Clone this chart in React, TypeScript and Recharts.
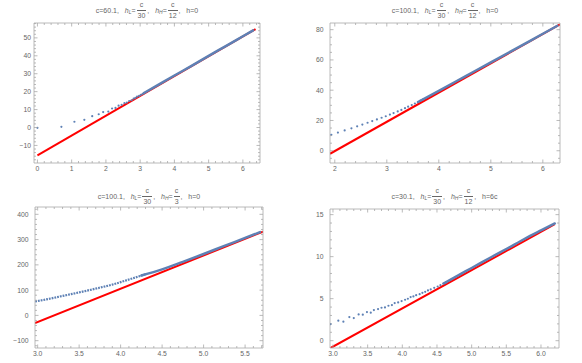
import React from 'react';
import { ComposedChart, Line, Scatter, XAxis, YAxis } from 'recharts';

const BLUE = '#5e81b5';
const RED = '#ff0000';
const FRAME = '#a8a8a8';
const TEXT = '#666666';
const FONT = '"Liberation Sans", Arial, sans-serif';

// ---- panel 1: c=60.1, hH=c/12, h=0 ----
const P1_DOT_X = [0, 0.7, 1.08, 1.37, 1.6, 1.79, 1.92, 2.07, 2.18, 2.28, 2.37, 2.46, 2.54, 2.61, 2.68, 2.75, 2.81, 2.86, 2.91, 2.97, 3.02, 3.07, 3.12];
const P1_DOT_Y = [-0.2, 0.4, 3.2, 4.3, 6.3, 7.4, 8.6, 8.9, 10.6, 10.9, 12.2, 12.6, 13.6, 13.9, 14.8, 15.2, 16.1, 16.5, 17.2, 17.6, 18.2, 18.7, 19.3];
const P1_BAND_X = [3.1, 3.5, 4.0, 4.5, 5.0, 5.5, 6.0, 6.3];
const P1_BAND_Y = [19.1, 23.5, 29.0, 34.4, 40.0, 45.4, 50.9, 54.2];
const P1_RED_X = [0, 6.37];
const P1_RED_Y = [-15.6, 54.9];
const P1_X_TICKS = [0, 1, 2, 3, 4, 5, 6];
const P1_X_LABELS = ['0', '1', '2', '3', '4', '5', '6'];
const P1_Y_TICKS = [-10, 0, 10, 20, 30, 40, 50];
const P1_Y_LABELS = ['\u221210', '0', '10', '20', '30', '40', '50'];

// ---- panel 2: c=100.1, hH=c/12, h=0 ----
const P2_DOT_X = [1.934, 2.06, 2.19, 2.32, 2.43, 2.53, 2.63, 2.72, 2.81, 2.9, 2.98, 3.06, 3.13, 3.21, 3.28, 3.35, 3.41, 3.48, 3.54, 3.6, 3.65, 3.7];
const P2_DOT_Y = [10.5, 12.0, 13.4, 14.8, 16.1, 17.3, 18.5, 19.6, 20.7, 21.8, 22.8, 23.9, 24.9, 26.0, 27.0, 28.1, 29.1, 30.2, 31.2, 32.2, 33.1, 34.0];
const P2_BAND_X = [3.6, 4.0, 4.5, 5.0, 5.5, 6.0, 6.28];
const P2_BAND_Y = [32.2, 39.6, 49.0, 58.4, 67.8, 77.3, 82.6];
const P2_RED_X = [1.908, 6.33];
const P2_RED_Y = [-2.0, 83.5];
const P2_X_TICKS = [2, 3, 4, 5, 6];
const P2_X_LABELS = ['2', '3', '4', '5', '6'];
const P2_Y_TICKS = [0, 20, 40, 60, 80];
const P2_Y_LABELS = ['0', '20', '40', '60', '80'];

// ---- panel 3: c=100.1, hH=c/3, h=0 ----
const P3_DASH_X = [2.97, 3.1, 3.3, 3.5, 3.7, 3.9, 4.1, 4.3];
const P3_DASH_Y = [55, 63, 77, 91, 106, 122, 142, 163];
const P3_BAND_X = [4.25, 4.5, 4.75, 5.0, 5.25, 5.5, 5.68];
const P3_BAND_Y = [158, 182, 212, 243, 275, 306.5, 329.5];
const P3_RED_X = [2.968, 5.716];
const P3_RED_Y = [-30, 331.4];
const P3_X_TICKS = [3, 3.5, 4, 4.5, 5, 5.5];
const P3_X_LABELS = ['3.0', '3.5', '4.0', '4.5', '5.0', '5.5'];
const P3_Y_TICKS = [-100, 0, 100, 200, 300, 400];
const P3_Y_LABELS = ['\u2212100', '0', '100', '200', '300', '400'];

// ---- panel 4: c=30.1, hH=c/12, h=6c ----
const P4_DOT_X = [2.966, 3.077, 3.15, 3.236, 3.3, 3.37, 3.43, 3.49, 3.545, 3.59, 3.65, 3.7, 3.75, 3.8, 3.85, 3.89, 3.94, 3.99, 4.04, 4.08, 4.12, 4.16, 4.2, 4.25, 4.29, 4.33, 4.37, 4.41, 4.46, 4.51, 4.55, 4.59, 4.63];
const P4_DOT_Y = [1.98, 2.38, 2.26, 2.81, 2.69, 3.13, 3.09, 3.4, 3.33, 3.64, 3.76, 3.92, 3.96, 4.16, 4.24, 4.47, 4.55, 4.71, 4.87, 4.99, 5.19, 5.27, 5.42, 5.54, 5.7, 5.82, 5.98, 6.1, 6.29, 6.45, 6.6, 6.78, 6.93];
const P4_BAND_X = [4.6, 4.8, 5.0, 5.28, 5.52, 5.76, 6.0, 6.2];
const P4_BAND_Y = [6.83, 7.75, 8.65, 9.93, 11.0, 12.1, 13.12, 13.95];
const P4_RED_X = [2.966, 6.2];
const P4_RED_Y = [-0.87, 13.86];
const P4_X_TICKS = [3, 3.5, 4, 4.5, 5, 5.5, 6];
const P4_X_LABELS = ['3.0', '3.5', '4.0', '4.5', '5.0', '5.5', '6.0'];
const P4_Y_TICKS = [0, 5, 10, 15];
const P4_Y_LABELS = ['0', '5', '10', '15'];

type Pt = { x: number; y: number };
const zip = (xs: number[], ys: number[]): Pt[] => xs.map((x, i) => ({ x, y: ys[i] }));

// minor tick positions between the domain ends
function minorTicks(domain: [number, number], step: number, majors: number[]) {
  const out: number[] = [];
  const start = Math.ceil(domain[0] / step - 1e-9);
  for (let k = start; k * step <= domain[1] + 1e-9; k++) {
    const v = +(k * step).toFixed(6);
    if (!majors.some((m) => Math.abs(m - v) < 1e-6)) out.push(v);
  }
  return out;
}

type Side = 'b' | 't' | 'l' | 'r';

const makeTick = (side: Side, majors: number[], labels: string[], gap: number) => (props: any) => {
  const { x, y, payload } = props;
  const idx = majors.findIndex((m) => Math.abs(m - payload.value) < 1e-6);
  const len = idx >= 0 ? 3.5 : 2;
  let line;
  if (side === 'b') line = <line x1={x} x2={x} y1={y} y2={y - len} stroke={FRAME} strokeWidth={0.8} />;
  else if (side === 't') line = <line x1={x} x2={x} y1={y} y2={y + len} stroke={FRAME} strokeWidth={0.8} />;
  else if (side === 'l') line = <line x1={x} x2={x + len} y1={y} y2={y} stroke={FRAME} strokeWidth={0.8} />;
  else line = <line x1={x} x2={x - len} y1={y} y2={y} stroke={FRAME} strokeWidth={0.8} />;
  let label = null;
  if (idx >= 0 && side === 'b')
    label = (
      <text x={x} y={y + gap} textAnchor="middle" fontSize={6.8} fill={TEXT} fontFamily={FONT}>
        {labels[idx]}
      </text>
    );
  if (idx >= 0 && side === 'l')
    label = (
      <text x={x - gap} y={y + 2.4} textAnchor="end" fontSize={6.8} fill={TEXT} fontFamily={FONT}>
        {labels[idx]}
      </text>
    );
  return (
    <g>
      {line}
      {label}
    </g>
  );
};

function Frac({ num, den }: { num: string; den: string }) {
  return (
    <span style={{ display: 'inline-flex', flexDirection: 'column', alignItems: 'center', lineHeight: '8px', margin: '0 1px' }}>
      <span style={{ paddingBottom: 1 }}>{num}</span>
      <span style={{ borderTop: `0.8px solid ${TEXT}`, padding: '1px 1px 0' }}>{den}</span>
    </span>
  );
}

function Title({ c, hH, h, left, top, width }: { c: string; hH: string; h: string; left: number; top: number; width: number }) {
  return (
    <div
      style={{
        position: 'absolute',
        left,
        top,
        width,
        height: 20,
        display: 'flex',
        justifyContent: 'center',
        alignItems: 'center',
        fontFamily: FONT,
        fontSize: 7,
        color: TEXT,
        whiteSpace: 'pre',
      }}
    >
      <span>{`c=${c},   `}</span>
      <i>h</i>
      <i style={{ fontSize: 5, position: 'relative', top: 1.5 }}>L</i>
      <span>=</span>
      <Frac num="c" den="30" />
      <span>{',   '}</span>
      <i>h</i>
      <i style={{ fontSize: 5, position: 'relative', top: 1.5 }}>H</i>
      <span>=</span>
      <Frac num="c" den={hH} />
      <span>{`,   h=${h}`}</span>
    </div>
  );
}

type PanelCfg = {
  left: number;
  top: number;
  width: number;
  height: number;
  pad: { l: number; r: number; t: number; b: number };
  xDomain: [number, number];
  yDomain: [number, number];
  xTicks: number[];
  xLabels: string[];
  xStep: number;
  yTicks: number[];
  yLabels: string[];
  yStep: number;
  yGap: number;
  dots?: Pt[];
  dashed?: Pt[];
  band: Pt[];
  red: Pt[];
};

function Panel({ cfg }: { cfg: PanelCfg }) {
  const xAll = [...cfg.xTicks, ...minorTicks(cfg.xDomain, cfg.xStep, cfg.xTicks)].sort((a, b) => a - b);
  const yAll = [...cfg.yTicks, ...minorTicks(cfg.yDomain, cfg.yStep, cfg.yTicks)].sort((a, b) => a - b);
  const common = { type: 'number' as const, allowDataOverflow: true, interval: 0 as const, tickSize: 0, tickMargin: 0, tickLine: false, axisLine: { stroke: FRAME, strokeWidth: 0.8 } };
  return (
    <div style={{ position: 'absolute', left: cfg.left, top: cfg.top }}>
      <ComposedChart width={cfg.width} height={cfg.height} margin={{ top: 0, right: 0, bottom: 0, left: 0 }}>
        <XAxis xAxisId="b" orientation="bottom" dataKey="x" domain={cfg.xDomain} ticks={xAll} height={cfg.pad.b} tick={makeTick('b', cfg.xTicks, cfg.xLabels, 8)} {...common} />
        <XAxis xAxisId="t" orientation="top" dataKey="x" domain={cfg.xDomain} ticks={xAll} height={cfg.pad.t} tick={makeTick('t', cfg.xTicks, cfg.xLabels, 0)} {...common} />
        <YAxis yAxisId="l" orientation="left" dataKey="y" domain={cfg.yDomain} ticks={yAll} width={cfg.pad.l} tick={makeTick('l', cfg.yTicks, cfg.yLabels, cfg.yGap)} {...common} />
        <YAxis yAxisId="r" orientation="right" dataKey="y" domain={cfg.yDomain} ticks={yAll} width={cfg.pad.r} tick={makeTick('r', cfg.yTicks, cfg.yLabels, 0)} {...common} />
        <Line xAxisId="t" yAxisId="r" data={cfg.red} dataKey="y" type="linear" stroke={RED} strokeWidth={2} dot={false} isAnimationActive={false} />
        {cfg.dashed && (
          <Line xAxisId="b" yAxisId="l" data={cfg.dashed} dataKey="y" type="monotone" stroke={BLUE} strokeWidth={2.2} strokeDasharray="1.8 1" dot={false} isAnimationActive={false} />
        )}
        <Line xAxisId="b" yAxisId="l" data={cfg.band} dataKey="y" type="monotone" stroke={BLUE} strokeWidth={2.5} strokeLinecap="round" dot={false} isAnimationActive={false} />
        {cfg.dots && (
          <Scatter
            xAxisId="b"
            yAxisId="l"
            data={cfg.dots}
            dataKey="y"
            isAnimationActive={false}
            shape={(p: any) => <circle cx={p.cx} cy={p.cy} r={1.1} fill={BLUE} />}
          />
        )}
      </ComposedChart>
    </div>
  );
}

const PANELS: PanelCfg[] = [
  {
    left: 0, top: 0, width: 270, height: 180,
    pad: { l: 34, r: 10, t: 23, b: 17 },
    xDomain: [-0.1, 6.5], yDomain: [-19.8, 58.3],
    xTicks: P1_X_TICKS, xLabels: P1_X_LABELS, xStep: 0.2,
    yTicks: P1_Y_TICKS, yLabels: P1_Y_LABELS, yStep: 2, yGap: 3,
    dots: zip(P1_DOT_X, P1_DOT_Y), band: zip(P1_BAND_X, P1_BAND_Y), red: zip(P1_RED_X, P1_RED_Y),
  },
  {
    left: 291, top: 0, width: 291, height: 180,
    pad: { l: 39, r: 22, t: 23, b: 17 },
    xDomain: [1.908, 6.33], yDomain: [-8.1, 84.4],
    xTicks: P2_X_TICKS, xLabels: P2_X_LABELS, xStep: 0.2,
    yTicks: P2_Y_TICKS, yLabels: P2_Y_LABELS, yStep: 5, yGap: 6.5,
    dots: zip(P2_DOT_X, P2_DOT_Y), band: zip(P2_BAND_X, P2_BAND_Y), red: zip(P2_RED_X, P2_RED_Y),
  },
  {
    left: 0, top: 180, width: 270, height: 183,
    pad: { l: 35, r: 7, t: 27, b: 15 },
    xDomain: [2.968, 5.716], yDomain: [-129, 429],
    xTicks: P3_X_TICKS, xLabels: P3_X_LABELS, xStep: 0.1,
    yTicks: P3_Y_TICKS, yLabels: P3_Y_LABELS, yStep: 20, yGap: 6.5,
    dashed: zip(P3_DASH_X, P3_DASH_Y), band: zip(P3_BAND_X, P3_BAND_Y), red: zip(P3_RED_X, P3_RED_Y),
  },
  {
    left: 291, top: 180, width: 291, height: 183,
    pad: { l: 39, r: 23, t: 29, b: 15 },
    xDomain: [2.957, 6.26], yDomain: [-0.87, 15.67],
    xTicks: P4_X_TICKS, xLabels: P4_X_LABELS, xStep: 0.1,
    yTicks: P4_Y_TICKS, yLabels: P4_Y_LABELS, yStep: 1, yGap: 6.5,
    dots: zip(P4_DOT_X, P4_DOT_Y), band: zip(P4_BAND_X, P4_BAND_Y), red: zip(P4_RED_X, P4_RED_Y),
  },
];

export default function App() {
  return (
    <div style={{ position: 'absolute', left: 0, top: 0, width: 582, height: 363, background: '#fff' }}>
      {PANELS.map((p, i) => (
        <Panel key={i} cfg={p} />
      ))}
      <Title c="60.1" hH="12" h="0" left={34} top={0} width={226} />
      <Title c="100.1" hH="12" h="0" left={330} top={0} width={230} />
      <Title c="100.1" hH="3" h="0" left={35} top={186} width={228} />
      <Title c="30.1" hH="12" h="6c" left={330} top={186} width={229} />
    </div>
  );
}
